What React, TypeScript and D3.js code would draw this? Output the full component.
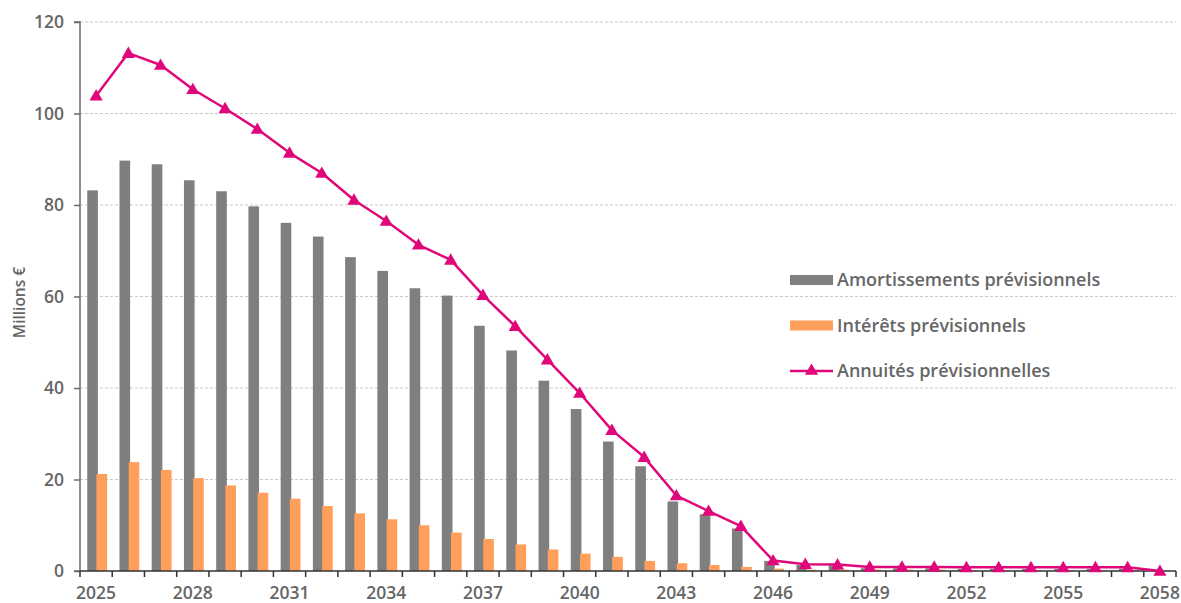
import React, { useEffect, useRef } from "react";
import * as d3 from "d3";

const years: number[] = d3.range(2025, 2059);
const amortissements: number[] = [
  83.2, 89.7, 88.9, 85.4, 83.0, 79.7, 76.1, 73.1, 68.6, 65.6, 61.8, 60.2,
  53.6, 48.2, 41.6, 35.4, 28.3, 22.9, 15.2, 12.4, 9.3, 2.2, 1.3, 1.2, 0.6,
  0.6, 0.6, 0.5, 0.5, 0.5, 0.5, 0.5, 0.5, 0,
];
const interets: number[] = [
  21.2, 23.8, 22.1, 20.3, 18.7, 17.1, 15.8, 14.2, 12.6, 11.3, 10.0, 8.4, 7.0,
  5.8, 4.7, 3.8, 3.1, 2.2, 1.7, 1.3, 0.9, 0.5, 0.3, 0.3, 0.3, 0.3, 0.3, 0.2,
  0.2, 0.2, 0.2, 0.2, 0.2, 0,
];
const annuites: number[] = [
  103.9, 113.2, 110.6, 105.3, 101.1, 96.6, 91.4, 87.0, 81.1, 76.5, 71.3,
  68.0, 60.3, 53.5, 46.2, 38.9, 30.8, 24.9, 16.5, 13.1, 9.8, 2.3, 1.5, 1.4,
  0.9, 0.9, 0.9, 0.8, 0.8, 0.8, 0.8, 0.8, 0.8, 0,
];
const yTicks: number[] = [0, 20, 40, 60, 80, 100, 120];
const legendLabels: string[] = [
  "Amortissements prévisionnels",
  "Intérêts prévisionnels",
  "Annuités prévisionnelles",
];
const yTitle = "Millions €";

const W = 1181;
const H = 603;
const FONT = "'Open Sans', 'Noto Sans', sans-serif";
const TEXT = "#666666";
const GRAY = "#7f7f7f";
const ORANGE = "#fe9f5c";
const PINK = "#e0077a";

export default function App() {
  const ref = useRef<SVGSVGElement>(null);

  useEffect(() => {
    const svg = d3.select(ref.current);
    svg.selectAll("*").remove();

    const left = 80;
    const right = 1176;
    const top = 22;
    const bottom = 571;

    const x = d3
      .scaleBand<number>()
      .domain(years)
      .range([left, right])
      .paddingInner(0)
      .paddingOuter(0);
    const y = d3.scaleLinear().domain([0, 120]).range([bottom, top]);
    const bw = x.bandwidth();

    // gridlines
    svg
      .append("g")
      .selectAll("line")
      .data(yTicks.filter((t) => t > 0))
      .join("line")
      .attr("x1", left)
      .attr("x2", right)
      .attr("y1", (d) => y(d))
      .attr("y2", (d) => y(d))
      .attr("stroke", "#c8c8c8")
      .attr("stroke-width", 1)
      .attr("stroke-dasharray", "3,2");

    // bars
    const barW = bw * 0.33;
    svg
      .append("g")
      .selectAll("rect")
      .data(years)
      .join("rect")
      .attr("x", (d) => (x(d) as number) + bw * 0.225)
      .attr("width", barW)
      .attr("y", (d, i) => y(amortissements[i]))
      .attr("height", (d, i) => y(0) - y(amortissements[i]))
      .attr("fill", GRAY);
    svg
      .append("g")
      .selectAll("rect")
      .data(years)
      .join("rect")
      .attr("x", (d) => (x(d) as number) + bw * 0.51)
      .attr("width", barW)
      .attr("y", (d, i) => y(interets[i]))
      .attr("height", (d, i) => y(0) - y(interets[i]))
      .attr("fill", ORANGE);

    // y axis
    const yAxis = d3
      .axisLeft(y)
      .tickValues(yTicks)
      .tickSize(6)
      .tickPadding(10)
      .tickFormat((d) => String(d));
    const gy = svg.append("g").attr("transform", `translate(${left},0)`).call(yAxis);
    gy.select(".domain").attr("stroke", "#6a6a6a").attr("stroke-width", 1.5).attr("d", `M-6,${top}H0V${bottom}H-6`);
    gy.selectAll(".tick line").attr("stroke", "#6a6a6a").attr("stroke-width", 1.5);
    gy.selectAll(".tick text")
      .attr("fill", TEXT)
      .attr("font-family", FONT)
      .attr("font-size", 17.5)
      .attr("font-weight", 600);

    // x axis
    const gx = svg.append("g").attr("transform", `translate(0,${bottom})`);
    gx.append("line")
      .attr("x1", left)
      .attr("x2", right)
      .attr("stroke", "#333")
      .attr("stroke-width", 1.5);
    const bounds = years.map((d) => x(d) as number).concat([right]);
    gx.selectAll("line.tk")
      .data(bounds)
      .join("line")
      .attr("class", "tk")
      .attr("x1", (d) => d)
      .attr("x2", (d) => d)
      .attr("y1", 0)
      .attr("y2", 6)
      .attr("stroke", "#333")
      .attr("stroke-width", 1.5);
    gx.selectAll("text")
      .data(years.filter((d, i) => i % 3 === 0))
      .join("text")
      .attr("x", (d) => (x(d) as number) + bw / 2)
      .attr("y", 28)
      .attr("text-anchor", "middle")
      .attr("fill", TEXT)
      .attr("font-family", FONT)
      .attr("font-size", 17.5)
      .attr("font-weight", 600)
      .text((d) => String(d));

    // y title
    svg
      .append("text")
      .attr("transform", `translate(25,${(top + bottom) / 2 + 6}) rotate(-90)`)
      .attr("text-anchor", "middle")
      .attr("fill", TEXT)
      .attr("font-family", FONT)
      .attr("font-size", 15.5)
      .attr("font-weight", 600)
      .text(yTitle);

    // line
    const line = d3
      .line<number>()
      .x((d, i) => (x(years[i]) as number) + bw / 2)
      .y((d) => y(d));
    svg
      .append("path")
      .datum(annuites)
      .attr("d", line)
      .attr("fill", "none")
      .attr("stroke", PINK)
      .attr("stroke-width", 2.5)
      .attr("stroke-linejoin", "round");
    const tri = d3.symbol().type(d3.symbolTriangle).size(75);
    svg
      .append("g")
      .selectAll("path")
      .data(annuites)
      .join("path")
      .attr("d", tri)
      .attr("transform", (d, i) => `translate(${(x(years[i]) as number) + bw / 2},${y(d) + 1})`)
      .attr("fill", PINK);

    // legend
    const lg = svg.append("g").attr("transform", "translate(790,280)");
    const rowH = 45.5;
    legendLabels.forEach((lab, i) => {
      const g = lg.append("g").attr("transform", `translate(0,${i * rowH})`);
      if (i < 2) {
        g.append("rect")
          .attr("x", 0)
          .attr("y", -5)
          .attr("width", 43)
          .attr("height", 10)
          .attr("fill", i === 0 ? GRAY : ORANGE);
      } else {
        g.append("line")
          .attr("x1", 0)
          .attr("x2", 43)
          .attr("y1", 0)
          .attr("y2", 0)
          .attr("stroke", PINK)
          .attr("stroke-width", 2.5);
        g.append("path").attr("d", tri).attr("transform", "translate(21.5,0)").attr("fill", PINK);
      }
      g.append("text")
        .attr("x", 47)
        .attr("y", 0)
        .attr("dy", "0.35em")
        .attr("fill", TEXT)
        .attr("font-family", FONT)
        .attr("font-size", 18)
        .attr("font-weight", 600)
        .text(lab);
    });
  }, []);

  return (
    <svg
      ref={ref}
      width={W}
      height={H}
      style={{ position: "absolute", left: 0, top: 0, background: "#fff" }}
    />
  );
}
